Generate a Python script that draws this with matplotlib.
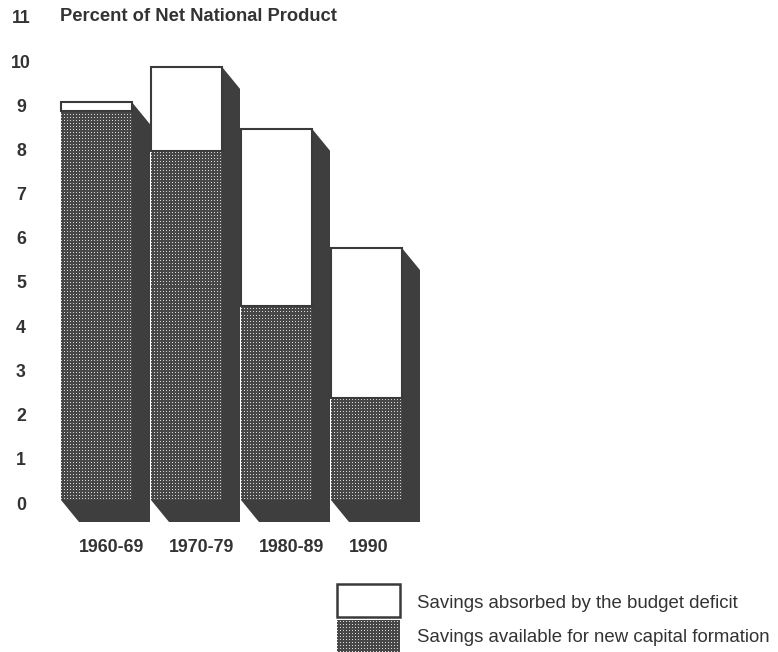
import numpy as np
import matplotlib.pyplot as plt
import matplotlib.transforms as mtransforms
from matplotlib.patches import Rectangle, Polygon

# percent of net national product
periods = ["1960-69", "1970-79", "1980-89", "1990"]
available = [8.8, 7.9, 4.4, 2.3]   # savings available for new capital formation
absorbed = [0.2, 1.9, 4.0, 3.4]    # savings absorbed by the budget deficit
yticks = list(range(0, 12))

W, H = 778, 652
LEFT = 40
fig = plt.figure(figsize=(W / 100, H / 100), dpi=100)
fig.patch.set_facecolor("white")
ax = fig.add_axes([LEFT / W, 0, 1 - LEFT / W, 1])

# one category step = 90 px, one percent point = 44.2 px
step_px, unit_px = 90.0, 44.2
first_px, zero_px = 96.5, 500.0
xlim = ((LEFT - first_px) / step_px, (W - first_px) / step_px)
ylim = ((zero_px - H) / unit_px, zero_px / unit_px)

bar_w = 71 / step_px
dx = 18 / step_px
dy = 22 / unit_px

shadow = "#3e3e3e"
edge = "#3a3a3a"
ink = "#333333"
font = "Liberation Sans"

# stipple texture used for the "available" part of each bar
rr, cc = np.mgrid[0:H, 0:W - LEFT]
dots = (rr % 3 == 0) & (cc % 3 == 0)
tex = np.where(dots, 0.85, 0.28)


def stipple(patch):
    ax.add_patch(patch)
    im = ax.imshow(tex, cmap="gray", vmin=0, vmax=1, extent=(*xlim, *ylim),
                   origin="upper", interpolation="nearest", aspect="auto", zorder=2)
    im.set_clip_path(patch)


for i, (lab, a, b) in enumerate(zip(periods, available, absorbed)):
    x0 = i - bar_w / 2
    x1 = i + bar_w / 2
    top = a + b
    # extruded side and bottom faces
    ax.add_patch(Polygon([(x0, 0), (x0 + dx, -dy), (x1 + dx, -dy),
                          (x1 + dx, top - dy), (x1, top), (x1, 0)],
                         closed=True, fc=shadow, ec="none", zorder=1))
    stipple(Rectangle((x0, 0), bar_w, a, fc="none", ec="none", zorder=2))
    ax.add_patch(Rectangle((x0, a), bar_w, b, fc="white", ec=edge, lw=1.5, zorder=3))
    ax.text(x0 + dx, (zero_px - 548) / unit_px, lab, ha="left", va="center",
            fontsize=12.8, fontweight="bold", color=ink, family=font)

ax.set_xlim(*xlim)
ax.set_ylim(*ylim)
for s in ax.spines.values():
    s.set_visible(False)
ax.set_xticks([])
ax.set_yticks(yticks)
ax.set_yticklabels([str(t) for t in yticks], ha="center", fontsize=12.8,
                   fontweight="bold", color=ink, family=font)
ax.tick_params(axis="y", length=0, pad=19 / 100 * 72)
shift = mtransforms.ScaledTranslation(0, -3 / 100, fig.dpi_scale_trans)
for lbl in ax.get_yticklabels():
    lbl.set_transform(lbl.get_transform() + shift)

ax.text((60 - first_px) / step_px, 11, "Percent of Net National Product",
        ha="left", va="center", fontsize=13.2, fontweight="bold",
        color=ink, family=font, transform=ax.transData + shift)


# legend, placed in pixel terms of the same axes
def px_x(p):
    return (p - first_px) / step_px


def px_y(p):
    return (zero_px - p) / unit_px


ax.add_patch(Rectangle((px_x(337), px_y(617)), px_x(400) - px_x(337),
                       px_y(584) - px_y(617), fc="white", ec=edge, lw=1.8, zorder=3))
stipple(Rectangle((px_x(337), px_y(652)), px_x(400) - px_x(337),
                  px_y(620) - px_y(652), fc="none", ec="none", zorder=2))
ax.text(px_x(417), px_y(603), "Savings absorbed by the budget deficit",
        ha="left", va="center", fontsize=13.4, color=ink, family=font)
ax.text(px_x(417), px_y(638), "Savings available for new capital formation",
        ha="left", va="center", fontsize=13.4, color=ink, family=font)

fig.savefig("out.png", dpi=100, facecolor="white")
